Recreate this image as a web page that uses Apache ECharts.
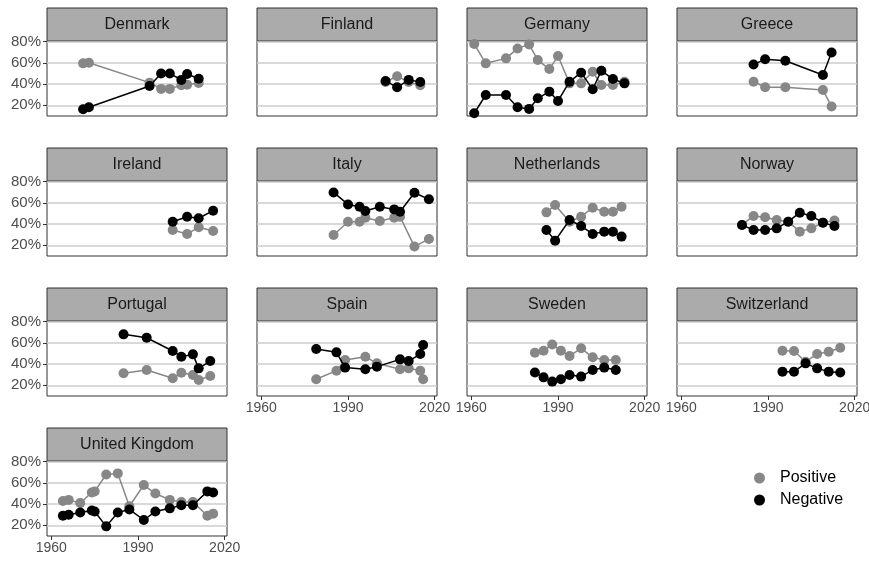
<!DOCTYPE html>
<html>
<head>
<meta charset="utf-8">
<script src="https://cdn.jsdelivr.net/npm/echarts@6/dist/echarts.min.js"></script>
<style>
html, body { margin: 0; padding: 0; background: #fff; }
#chart { width: 869px; height: 561px; }
</style>
</head>
<body>
<div id="chart"></div>
<script>
// values (percent)
const denmarkYears = [1971, 1973, 1994, 1998, 2001, 2005, 2007, 2011]
const denmarkPos = [59.6, 60.2, 41.4, 35.5, 35.5, 39, 39.5, 41]
const denmarkNeg = [16.2, 18.1, 38.2, 50, 50, 44, 49.5, 45]

const finlandYears = [2003, 2007, 2011, 2015]
const finlandPos = [42, 47.5, 42, 39]
const finlandNeg = [43, 37, 44, 42]

const germanyYears = [1961, 1965, 1972, 1976, 1980, 1983, 1987, 1990, 1994, 1998, 2002, 2005, 2009, 2013]
const germanyPos = [77.8, 59.6, 64.3, 73.7, 77.5, 62.7, 54.2, 66.5, 40.7, 40.7, 51.7, 39.2, 39.2, 42.3]
const germanyNeg = [12.5, 29.7, 29.7, 18.1, 16.6, 26.6, 32.9, 24.1, 42.3, 50.8, 35.1, 52.7, 44.8, 40.7]

const greeceYears = [1985, 1989, 1996, 2009, 2012]
const greecePos = [42.3, 37, 37, 34.5, 18.8]
const greeceNeg = [58.6, 63.4, 62.1, 48.6, 69.9]

const irelandYears = [2002, 2007, 2011, 2016]
const irelandPos = [34.5, 30.7, 37, 33.5]
const irelandNeg = [42.3, 47, 45.5, 52.7]

const italyYears = [1985, 1990, 1994, 1996, 2001, 2006, 2008, 2013, 2018]
const italyPos = [29.7, 42.3, 42.3, 46.1, 42.9, 46.1, 47, 18.8, 26]
const italyNeg = [69.9, 58.6, 56.4, 52.4, 56.4, 53.9, 51.7, 69.6, 63.4]

const netherlandsYears = [1986, 1989, 1994, 1998, 2002, 2006, 2009, 2012]
const netherlandsPos = [51.1, 58, 42.3, 47, 55.5, 51.7, 51.7, 56.4]
const netherlandsNeg = [34.5, 24.4, 43.9, 38.2, 30.7, 32.9, 32.9, 28.2]

const norwayYears = [1981, 1985, 1989, 1993, 1997, 2001, 2005, 2009, 2013]
const norwayPos = [39.2, 47.7, 46.4, 43.9, 42.3, 32.9, 36, 41.4, 43.3]
const norwayNeg = [39.2, 34.5, 34.5, 36, 42.3, 50.8, 47.7, 41.4, 38.2]

const portugalYears = [1985, 1993, 2002, 2005, 2009, 2011, 2015]
const portugalPos = [31.3, 34.5, 26.6, 31.9, 29.7, 25, 28.8]
const portugalNeg = [68.1, 64.9, 52.4, 47, 49.2, 36, 42.9]

const spainYears = [1979, 1986, 1989, 1996, 2000, 2008, 2011, 2015, 2016]
const spainPos = [25.7, 33.8, 43.9, 47, 40.7, 35.1, 36, 33.8, 25.7]
const spainNeg = [54.2, 51.1, 36.7, 35.1, 37.6, 44.5, 42.9, 49.5, 58]

const swedenYears = [1982, 1985, 1988, 1991, 1994, 1998, 2002, 2006, 2010]
const swedenPos = [50.8, 52.7, 58.6, 52.7, 47.7, 54.9, 46.4, 43.9, 43.9]
const swedenNeg = [32, 27.5, 23.5, 25.7, 29.7, 28.2, 34.5, 36.7, 34.5]

const switzerlandYears = [1995, 1999, 2003, 2007, 2011, 2015]
const switzerlandPos = [52.7, 52.4, 42.3, 49.5, 51.7, 55.5]
const switzerlandNeg = [32.9, 32.9, 40.7, 36, 32.9, 32]

const ukYears = [1964, 1966, 1970, 1974, 1975, 1979, 1983, 1987, 1992, 1996, 2001, 2005, 2009, 2014, 2016]
const ukPos = [43, 44, 41, 51, 52, 68, 69, 38, 58, 50, 44, 42, 42, 29, 31]
const ukNeg = [29, 30, 32, 34, 33, 19, 32, 35, 25, 33, 36, 39, 39, 52, 51]

const xTicks = [1960, 1990, 2020]
const yTicks = [20, 40, 60, 80]
const seriesNames = ['Positive', 'Negative']

const panels = [
  ['Denmark', denmarkYears, denmarkPos, denmarkNeg],
  ['Finland', finlandYears, finlandPos, finlandNeg],
  ['Germany', germanyYears, germanyPos, germanyNeg],
  ['Greece', greeceYears, greecePos, greeceNeg],
  ['Ireland', irelandYears, irelandPos, irelandNeg],
  ['Italy', italyYears, italyPos, italyNeg],
  ['Netherlands', netherlandsYears, netherlandsPos, netherlandsNeg],
  ['Norway', norwayYears, norwayPos, norwayNeg],
  ['Portugal', portugalYears, portugalPos, portugalNeg],
  ['Spain', spainYears, spainPos, spainNeg],
  ['Sweden', swedenYears, swedenPos, swedenNeg],
  ['Switzerland', switzerlandYears, switzerlandPos, switzerlandNeg],
  ['United Kingdom', ukYears, ukPos, ukNeg]
]

let colLeft = [47, 257, 467, 677]
let rowTop = [41, 181, 321, 461]
let panelW = 180
let panelH = 75
let stripH = 33
let posColor = '#878787'
let negColor = '#000000'
let labelColor = '#4d4d4d'
let fontFamily = '"Liberation Sans", Arial, sans-serif'

let grids = []
let xAxes = []
let yAxes = []
let series = []
let graphics = []

panels.forEach((p, i) => {
  let col = i % 4
  let row = Math.floor(i / 4)
  let left = colLeft[col]
  let top = rowTop[row]
  let isBottom = i + 4 >= panels.length
  let isLeft = col === 0

  grids.push({
    left: left, top: top, width: panelW, height: panelH,
    outerBoundsMode: 'none', containLabel: false,
    show: true, borderColor: '#333', borderWidth: 1, backgroundColor: '#fff'
  })
  xAxes.push({
    type: 'value', gridIndex: i, min: 1958.5, max: 2020.8,
    axisLine: { show: false },
    splitLine: { show: false },
    axisTick: { show: isBottom, customValues: xTicks, length: 4, lineStyle: { color: '#333', width: 1 } },
    axisLabel: {
      show: isBottom, customValues: xTicks, margin: 5, color: labelColor, fontSize: 14, fontFamily: fontFamily,
      formatter: function (v) { return String(v) }
    }
  })
  yAxes.push({
    type: 'value', gridIndex: i, min: 9.9, max: 80.7,
    axisLine: { show: false },
    splitLine: { show: true, lineStyle: { color: '#cccccc', width: 1.5 } },
    axisTick: { show: isLeft, customValues: yTicks, length: 4, lineStyle: { color: '#333', width: 1 } },
    axisLabel: { show: isLeft, customValues: yTicks, margin: 6, color: labelColor, fontSize: 15, fontFamily: fontFamily, formatter: '{value}%' }
  })
  let years = p[1]
  ;[p[2], p[3]].forEach((vals, k) => {
    let c = k === 0 ? posColor : negColor
    series.push({
      name: seriesNames[k],
      type: 'line',
      xAxisIndex: i,
      yAxisIndex: i,
      data: years.map((y, j) => [y, vals[j]]),
      symbol: 'circle',
      symbolSize: 10,
      lineStyle: { width: 1.5, color: c },
      itemStyle: { color: c, borderWidth: 0 },
      z: 2 + k,
      silent: true,
      animation: false
    })
  })
  // strip header
  graphics.push({
    type: 'rect',
    shape: { x: left, y: top - stripH, width: panelW, height: stripH },
    style: { fill: '#ababab', stroke: '#333', lineWidth: 1 },
    silent: true
  })
  graphics.push({
    type: 'text',
    x: left + panelW / 2,
    y: top - stripH / 2,
    style: {
      text: p[0], fill: '#1a1a1a', font: '16px ' + fontFamily,
      textAlign: 'center', textVerticalAlign: 'middle'
    },
    silent: true
  })
})

let chart = echarts.init(document.getElementById('chart'), null, { renderer: 'canvas' })
chart.setOption({
  animation: false,
  backgroundColor: '#fff',
  grid: grids,
  xAxis: xAxes,
  yAxis: yAxes,
  series: series,
  graphic: graphics,
  legend: {
    data: seriesNames,
    orient: 'vertical',
    left: 749,
    top: 465,
    itemGap: 6,
    icon: 'circle',
    itemWidth: 11,
    itemHeight: 11,
    textStyle: { fontSize: 16, color: '#000', fontFamily: fontFamily, padding: [0, 0, 0, 10] }
  }
})
</script>
</body>
</html>
